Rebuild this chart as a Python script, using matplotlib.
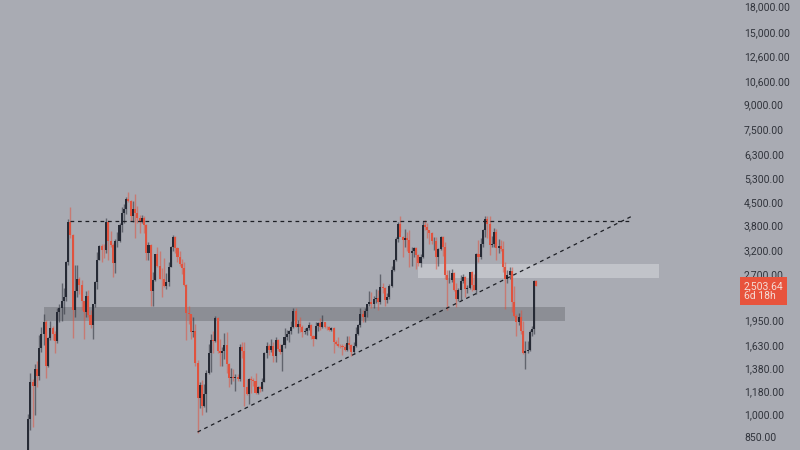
import numpy as np
import matplotlib
matplotlib.use('Agg')
from matplotlib import pyplot as plt
from matplotlib import transforms

# weekly candles, first week = 2020-12-28
first_open = 731
closes = [975, 1262, 1230, 1390, 1315, 1610, 1780, 1935, 1417, 1725,
          1850, 1780, 1690, 2080, 2140, 2240, 2310, 2950, 3930, 3580,
          2100, 2400, 2630, 2510, 2240, 2080, 2320, 2030, 1895, 2190,
          2560, 3010, 3310, 3225, 3220, 3930, 3430, 3330, 2930, 3420,
          3420, 3840, 4170, 4290, 4610, 4570, 4090, 4300, 4190, 4050,
          3920, 4050, 3830, 3150, 3330, 2400, 2600, 3130, 2880, 2630,
          2620, 2500, 2570, 2860, 3300, 3520, 3260, 3060, 2920, 2830,
          2520, 2060, 2040, 1800, 1810, 1450, 1130, 1240, 1070, 1160,
          1350, 1550, 1700, 1690, 1990, 1580, 1550, 1580, 1640, 1440,
          1300, 1310, 1300, 1310, 1290, 1620, 1570, 1220, 1160, 1290,
          1280, 1270, 1170, 1220, 1200, 1265, 1550, 1630, 1590, 1630,
          1520, 1700, 1600, 1565, 1640, 1740, 1775, 1820, 1860, 2090,
          1870, 1910, 1870, 1800, 1820, 1850, 1890, 1750, 1720, 1880,
          1925, 1870, 1935, 1870, 1860, 1830, 1850, 1680, 1650, 1635,
          1630, 1620, 1590, 1670, 1640, 1560, 1630, 1780, 1890, 2050,
          2010, 2090, 2190, 2230, 2200, 2270, 2290, 2230, 2470, 2460,
          2260, 2300, 2500, 2800, 3000, 3490, 3880, 3520, 3450, 3500,
          3450, 3150, 3200, 3260, 3110, 2930, 3070, 3830, 3780, 3700,
          3620, 3420, 3440, 3070, 3250, 3520, 3280, 2700, 2610, 2610,
          2740, 2430, 2280, 2420, 2580, 2660, 2440, 2460, 2750, 2520,
          2430, 3120, 3070, 3360, 3700, 4000, 3880, 3330, 3360, 3650,
          3270, 3310, 3250, 2860, 2630, 2690, 2770, 2220, 2020, 1940,
          2000, 1820, 1550, 1580, 1590, 1800, 1840, 2580, 2503.64]
highs = [1010, 1350, 1290, 1440, 1470, 1760, 1870, 2040, 1960, 1740,
         1950, 1880, 1820, 2140, 2200, 2550, 2460, 2970, 4000, 4380,
         3600, 2900, 2900, 2650, 2600, 2250, 2400, 2420, 2100, 2200,
         2580, 3180, 3330, 3350, 3370, 4030, 3970, 3680, 3380, 3480,
         3660, 3900, 4380, 4460, 4670, 4870, 4580, 4550, 4780, 4410,
         4120, 4130, 4100, 3880, 3410, 3350, 2750, 3140, 3280, 3200,
         2830, 3050, 2730, 2950, 3320, 3580, 3550, 3300, 3190, 3020,
         2960, 2530, 2160, 2050, 2010, 1900, 1480, 1260, 1280, 1250,
         1380, 1650, 1780, 1810, 2020, 2000, 1720, 1620, 1790, 1800,
         1450, 1400, 1390, 1340, 1340, 1660, 1680, 1680, 1290, 1300,
         1320, 1300, 1350, 1230, 1230, 1300, 1560, 1680, 1650, 1720,
         1680, 1740, 1720, 1650, 1660, 1850, 1830, 1830, 1950, 2140,
         2130, 1960, 2010, 1890, 1850, 1860, 1930, 1900, 1760, 1930,
         1940, 1990, 2030, 1940, 1880, 1880, 1870, 1860, 1700, 1740,
         1650, 1650, 1660, 1750, 1750, 1650, 1680, 1860, 1900, 2140,
         2100, 2130, 2200, 2400, 2390, 2330, 2450, 2430, 2720, 2550,
         2470, 2370, 2530, 2870, 3030, 3520, 3930, 4090, 3550, 3730,
         3650, 3720, 3280, 3290, 3300, 3130, 3130, 3950, 3980, 3890,
         3720, 3650, 3520, 3520, 3270, 3560, 3560, 3400, 2800, 2800,
         2820, 2760, 2550, 2460, 2700, 2720, 2670, 2520, 2760, 2770,
         2720, 3150, 3450, 3500, 3740, 4090, 4110, 4100, 3550, 3750,
         3740, 3470, 3450, 3430, 2950, 2790, 2850, 2850, 2500, 2050,
         2060, 2100, 1950, 1690, 1690, 1830, 1880, 2600, 2600]
lows = [715, 900, 920, 1000, 1220, 1280, 1560, 1640, 1300, 1410,
        1700, 1700, 1550, 1670, 1930, 1950, 2050, 2240, 2900, 3500,
        1730, 2000, 2300, 2350, 2100, 1710, 2000, 2000, 1850, 1720,
        2150, 2450, 3000, 2950, 3050, 3150, 3000, 3300, 2650, 2740,
        3300, 3400, 3670, 3900, 4150, 4510, 3950, 3920, 3500, 3900,
        3640, 3890, 3630, 3000, 3000, 2160, 2160, 2580, 2850, 2620,
        2300, 2480, 2450, 2500, 2850, 3200, 3150, 2950, 2870, 2710,
        2500, 1700, 1910, 1720, 1740, 1420, 880, 1050, 1000, 1060,
        1020, 1340, 1360, 1550, 1680, 1550, 1420, 1420, 1490, 1350,
        1220, 1250, 1270, 1190, 1270, 1270, 1500, 1070, 1150, 1080,
        1170, 1230, 1160, 1160, 1180, 1190, 1260, 1500, 1530, 1560,
        1460, 1460, 1580, 1540, 1370, 1610, 1700, 1680, 1780, 1850,
        1860, 1790, 1800, 1740, 1780, 1760, 1830, 1720, 1630, 1720,
        1820, 1830, 1850, 1850, 1830, 1810, 1820, 1550, 1640, 1620,
        1610, 1530, 1570, 1570, 1600, 1520, 1540, 1620, 1760, 1860,
        1930, 1930, 2010, 2170, 2140, 2140, 2210, 2100, 2200, 2380,
        2170, 2210, 2280, 2480, 2780, 2980, 3400, 3670, 3060, 3300,
        3200, 2850, 2870, 3060, 2820, 2870, 2860, 3050, 3700, 3500,
        3370, 3370, 3230, 2810, 2880, 3230, 3090, 2630, 2110, 2550,
        2560, 2400, 2150, 2250, 2260, 2550, 2310, 2380, 2450, 2400,
        2420, 2360, 2960, 3020, 3290, 3530, 3510, 3100, 3300, 3300,
        3000, 3150, 3200, 2750, 2120, 2550, 2620, 2080, 2000, 1750,
        1890, 1780, 1540, 1390, 1550, 1570, 1750, 1780, 2500]
opens = [first_open] + closes[:-1]

# drawings on the chart
res_level = 3950                      # dashed horizontal
res_span = (19, 271)
trend_pts = ([76, 271], [887, 4097])  # dashed rising line
zone_dark = (7, 241, 1950, 2150)
zone_light = (175, 283, 2640, 2915)

tick_vals = [850, 1000, 1180, 1380, 1630, 1950, 2700, 3200, 3800, 4500,
             5300, 6300, 7500, 9000, 10600, 12600, 15000, 18000]
last_label = '2,503.64\n6d 18h'

bg = '#a9abb3'
up_col = '#262a35'
down_col = '#e0533f'

fig = plt.figure(figsize=(8, 4.5), dpi=100)
fig.patch.set_facecolor(bg)
ax = fig.add_axes([0, 0, 1, 1])
ax.set_facecolor(bg)
ax.set_yscale('log')
ax.set_xlim(-12.6, 346.2)
ax.set_ylim(781, 18915)
ax.axis('off')

# zones
ax.fill_between([zone_dark[0], zone_dark[1]], zone_dark[2], zone_dark[3],
                color='#8c8e95', lw=0, zorder=1)
ax.fill_between([zone_light[0], zone_light[1]], zone_light[2], zone_light[3],
                color='#c1c3c9', lw=0, zorder=1)

# candles
x = np.arange(len(closes))
o = np.array(opens, dtype=float)
c = np.array(closes, dtype=float)
h = np.array(highs, dtype=float)
l = np.array(lows, dtype=float)
cols = np.where(c >= o, up_col, down_col)
ax.vlines(x, l, h, colors=cols, lw=1.0, alpha=0.55, zorder=2)
ax.bar(x, np.maximum(np.abs(c - o), 1), bottom=np.minimum(o, c), width=0.92,
       color=cols, lw=0, zorder=3)

# dashed lines
ax.plot(res_span, [res_level, res_level], color='#1c1e24', lw=0.9,
        dashes=(3, 3), zorder=4)
ax.plot(trend_pts[0], trend_pts[1], color='#1c1e24', lw=0.9,
        dashes=(3, 3), zorder=4)

# price scale labels
trans = transforms.blended_transform_factory(ax.transAxes, ax.transData)
for v in tick_vals:
    ax.text(0.93, v, f'{v:,.2f}', transform=trans, ha='left', va='center',
            fontsize=7.5, family=['Roboto', 'DejaVu Sans'], color='#30333b')

ax.annotate(last_label, xy=(0.93, closes[-1]), xycoords=trans,
            xytext=(0, -5.5), textcoords='offset pixels',
            ha='left', va='center', fontsize=7.5, linespacing=1.05,
            family=['Roboto', 'DejaVu Sans'], color='#f4dcd6',
            bbox=dict(boxstyle='square,pad=0.35', fc='#e8533c', ec='none'))

fig.savefig('out.png', dpi=100, facecolor=bg)
